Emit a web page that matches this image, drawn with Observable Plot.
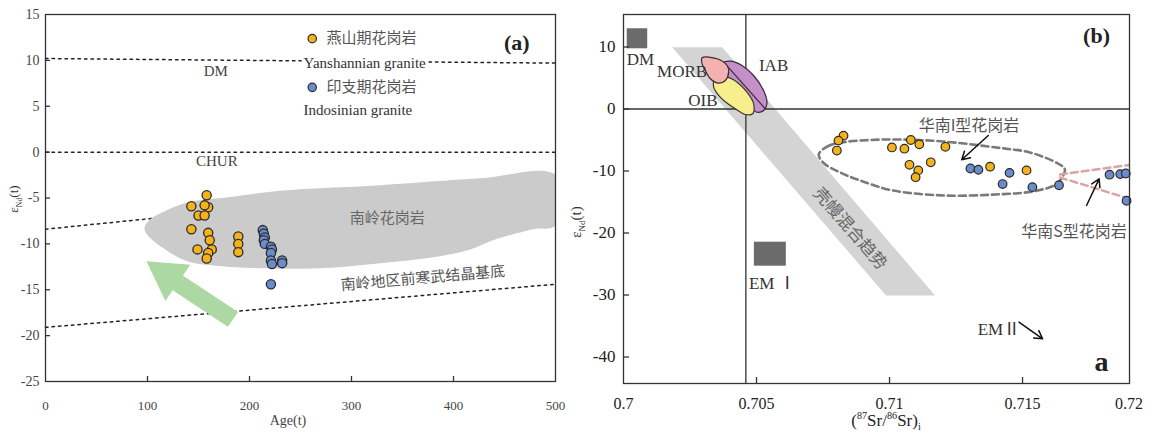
<!DOCTYPE html>
<html><head><meta charset="utf-8">
<script src="https://cdn.jsdelivr.net/npm/d3@7"></script>
<script src="https://cdn.jsdelivr.net/npm/@observablehq/plot@0.6"></script>
<style>
body{margin:0;background:#fff;}
#wrap{position:relative;width:1154px;height:434px;overflow:hidden;font-family:"Liberation Serif","Noto Sans CJK SC",serif;}
#pa{position:absolute;left:0;top:0}
#pb{position:absolute;left:565px;top:0}
.rot{position:absolute;transform:translate(-50%,-50%) rotate(-90deg);white-space:nowrap;color:#333}
.xt{position:absolute;transform:translate(-50%,-50%);white-space:nowrap;color:#222;line-height:1}
sub,sup{font-size:0.6em}
</style></head><body>
<div id="wrap">
 <div id="pa"></div><div id="pb"></div>
 <div class="rot" style="left:15px;top:199px;font-size:13px">ε<sub>Nd</sub>(t)</div>
 <div class="xt" style="left:288px;top:421px;font-size:14px;color:#444">Age(t)</div>
 <div class="rot" style="left:577px;top:222px;font-size:15px">ε<sub>Nd</sub>(t)</div>
 <div class="xt" style="left:886px;top:422px;font-size:17px">(<sup>87</sup>Sr/<sup>86</sup>Sr)<sub>i</sub></div>
</div>
<script>
const serif = "Liberation Serif, Noto Sans CJK SC, serif";
const cjk = "Noto Sans CJK SC, sans-serif";

// ---------- Panel (a) data ----------
const ageTicks = [0,100,200,300,400,500];
const endTicks = [15,10,5,0,-5,-10,-15,-20,-25];
const yanAge = [158,159.5,156,143,150,156,143,159.5,161,163,159.5,158,149,189,189,189];
const yanEnd = [-4.7,-6.0,-5.8,-5.9,-6.9,-6.9,-8.4,-8.8,-9.6,-10.6,-11.0,-11.6,-10.6,-9.2,-10.0,-10.9];
const indoAge = [213,214,215,214,215,221,222,221,221,222,232,232,221];
const indoEnd = [-8.5,-8.9,-9.3,-9.6,-10.0,-10.3,-10.6,-11.0,-11.8,-12.2,-11.8,-12.1,-14.4];
const nanlingX = [97,103,116,139,181,230,328,426,500,500,478,439,414,377,328,279,230,169,139,120,103];
const nanlingY = [-8.3,-7.3,-6.5,-5.5,-4.9,-4.2,-3.6,-2.85,-2.5,-8.0,-8.4,-9.6,-10.7,-11.5,-12.1,-12.6,-12.7,-12.4,-11.9,-10.8,-9.4];
const dmLineX = [0,500], dmLineY = [10.2,9.7];
const churLineX = [0,500], churLineY = [0,0];
const baseUpX = [0,120], baseUpY = [-8.4,-7.05];
const baseLowX = [0,500], baseLowY = [-19.1,-14.4];
const greenX = [99,141.9,134.7,188.8,178.8,124.7,117.5];
const greenY = [-11.9,-12.27,-13.44,-17.42,-19.03,-15.05,-16.22];
const legendX = [261.5,261.5], legendY = [12.37,7.06];
const legendNames = ["燕山期花岗岩","印支期花岗岩"];
const legendEn = ["Yanshannian granite","Indosinian granite"];
const legendEnY = [9.68,4.56];

// ---------- Panel (b) data ----------
const srTicks = [0.7,0.705,0.71,0.715,0.719];
const srTickLabels = ["0.7","0.705","0.71","0.715","0.72"];
const ndTicks = [10,0,-10,-20,-30,-40];
const ySr = [0.70827,0.70808,0.70802,0.71009,0.71056,0.71080,0.71112,0.71210,0.71075,0.71155,0.71108,0.71098,0.71378,0.71515];
const yNd = [-4.3,-5.1,-6.7,-6.2,-6.4,-5.0,-5.7,-6.1,-9.0,-8.6,-9.9,-11.0,-9.3,-9.9];
const iSr = [0.71304,0.71334,0.71451,0.71425,0.71537,0.71637,0.71827,0.71867,0.71888,0.71891];
const iNd = [-9.6,-9.8,-10.3,-12.1,-12.6,-12.3,-10.6,-10.5,-10.4,-14.8];
const bandX = [0.70183,0.70371,0.71171,0.70987];
const bandY = [9.97,9.97,-30.08,-30.08];
const morbX = [0.702954,0.703517,0.703893,0.703953,0.703829,0.703577,0.703266,0.703078,0.702954];
const morbY = [8.26,8.10,7.02,5.94,4.60,4.16,4.87,6.21,7.29];
const iabX = [0.703641,0.704017,0.704456,0.704891,0.705267,0.705394,0.705267,0.705019,0.704767,0.704516,0.704140,0.703829,0.703641];
const iabY = [7.29,7.71,7.02,5.40,2.98,0.84,-0.24,-0.52,0.29,1.90,3.79,5.40,6.48];
const iabLineX = [0.703765,0.705330], iabLineY = [7.55,0.03];
const oibX = [0.703416,0.703893,0.704268,0.704643,0.704891,0.704854,0.704580,0.704204,0.703765,0.703577,0.703390];
const oibY = [4.60,5.13,4.32,2.71,0.84,-0.77,-0.89,0.03,1.37,2.18,3.52];
const iTypeX = [0.707339,0.707695,0.708333,0.709272,0.710398,0.712012,0.714152,0.715278,0.716329,0.716592,0.716291,0.715465,0.713964,0.712087,0.710135,0.708896,0.708146,0.707545];
const iTypeY = [-7.34,-5.97,-5.32,-5.00,-4.92,-5.24,-6.29,-7.02,-8.79,-9.76,-12.02,-13.23,-13.79,-13.95,-13.15,-11.53,-10.24,-8.79];
const sUpX = [0.716404,0.718994], sUpY = [-10.56,-9.03];
const sLowX = [0.716404,0.718994], sLowY = [-11.05,-14.44];
const boxNames = ["DM","EM I"];
const boxX1 = [0.70014,0.70492], boxX2 = [0.70091,0.70612];
const boxY1 = [9.71,-25.35], boxY2 = [12.94,-21.48];
const arrowX1 = [0.713712,0.717406,0.714865], arrowY1 = [-4.27,-15.56,-34.39];
const arrowX2 = [0.712714,0.717879,0.715754], arrowY2 = [-8.19,-11.26,-37.06];
const labB = ["DM","MORB","IAB","OIB","EM Ⅰ","EMⅡ"];
const labBX = [0.700638,0.702203,0.705642,0.702984,0.705593,0.714114];
const labBY = [7.94,6.10,7.02,1.37,-28.19,-35.6];

const pts = (X, Y) => X.map((x, i) => ({x, y: Y[i]}));

// ---------- Panel (a) ----------
const A = Plot.plot({
  width: 565, height: 434,
  marginLeft: 45, marginRight: 10, marginTop: 14, marginBottom: 53,
  x: {domain: [0, 500]},
  y: {domain: [-25, 15]},
  style: {fontFamily: serif, background: "transparent", overflow: "visible"},
  marks: [
    Plot.line(pts(dmLineX, dmLineY), {x: "x", y: "y", stroke: "#222", strokeWidth: 1.5, strokeDasharray: "2.5,4"}),
    Plot.line(pts(churLineX, churLineY), {x: "x", y: "y", stroke: "#222", strokeWidth: 1.5, strokeDasharray: "2.5,4"}),
    Plot.line(pts(baseUpX, baseUpY), {x: "x", y: "y", stroke: "#222", strokeWidth: 1.5, strokeDasharray: "2.5,4"}),
    Plot.line(pts(baseLowX, baseLowY), {x: "x", y: "y", stroke: "#222", strokeWidth: 1.5, strokeDasharray: "2.5,4"}),
    Plot.line(pts(nanlingX, nanlingY), {x: "x", y: "y", fill: "#cbcbcb", stroke: "none", curve: "catmull-rom-closed", clip: true}),
    Plot.line(pts(greenX, greenY), {x: "x", y: "y", fill: "#acd9a3", stroke: "none", curve: "linear-closed"}),
    Plot.dot(pts(yanAge, yanEnd), {x: "x", y: "y", r: 4.6, fill: "#f4b21b", stroke: "#2a2a2a", strokeWidth: 1.3}),
    Plot.dot(pts(indoAge, indoEnd), {x: "x", y: "y", r: 4.6, fill: "#6a8ccb", stroke: "#2a2a2a", strokeWidth: 1.3}),
    // legend
    Plot.dot([0, 1], {x: i => legendX[i], y: i => legendY[i], r: 4.2, fill: i => ["#f4b21b", "#6a8ccb"][i], stroke: "#2a2a2a", strokeWidth: 1.2}),
    Plot.text([0, 1], {x: i => legendX[i] + 14, y: i => legendY[i], text: i => legendNames[i], textAnchor: "start", fontSize: 15, fontFamily: cjk, fill: "#555"}),
    Plot.text([0, 1], {x: () => 253, y: i => legendEnY[i], text: i => legendEn[i], textAnchor: "start", fontSize: 15, fill: "#333", stroke: "white", strokeWidth: 6}),
    Plot.text(["(a)"], {x: 462, y: 11.86, fontSize: 22, fontWeight: "bold", fill: "#222"}),
    Plot.text(["DM"], {x: 167, y: 8.8, fontSize: 15, fill: "#444"}),
    Plot.text(["CHUR"], {x: 168, y: -1.0, fontSize: 15, fill: "#444"}),
    Plot.text(["南岭花岗岩"], {x: 335, y: -7.25, fontSize: 15, fontFamily: cjk, fill: "#666"}),
    Plot.text(["南岭地区前寒武结晶基底"], {x: 370, y: -13.75, rotate: -5, fontSize: 15, fontFamily: cjk, fill: "#555"}),
    Plot.frame({stroke: "#333", strokeWidth: 1.3}),
    Plot.axisX(ageTicks, {tickSize: 0, tickPadding: 19, fontSize: 13, label: null, color: "#444"}),
    Plot.axisX(ageTicks.slice(1, -1), {tickSize: -5, tickFormat: () => "", label: null, color: "#333", strokeWidth: 1.3}),
    Plot.axisY(endTicks, {tickSize: 0, tickPadding: 6, fontSize: 14, label: null, color: "#444", tickFormat: d => String(d)}),
    Plot.axisY(endTicks.slice(1, -1), {tickSize: -5, tickFormat: () => "", label: null, color: "#333", strokeWidth: 1.3})
  ]
});
document.getElementById("pa").append(A);

// ---------- Panel (b) ----------
const B = Plot.plot({
  width: 589, height: 434,
  marginLeft: 58, marginRight: 25, marginTop: 14, marginBottom: 51,
  x: {domain: [0.7, 0.71902]},
  y: {domain: [-44.27, 15.24]},
  style: {fontFamily: serif, background: "transparent", overflow: "visible"},
  marks: [
    Plot.line(pts(bandX, bandY), {x: "x", y: "y", fill: "#d4d4d4", stroke: "none", curve: "linear-closed"}),
    Plot.text(["壳幔混合趋势"], {x: 0.70852, y: -19.3, rotate: 49, fontSize: 17, fontFamily: cjk, fill: "#666"}),
    Plot.ruleX([0.7046], {stroke: "#333", strokeWidth: 1.3}),
    Plot.ruleY([0], {stroke: "#333", strokeWidth: 1.3}),
    Plot.rect([0, 1], {x1: i => boxX1[i], x2: i => boxX2[i], y1: i => boxY1[i], y2: i => boxY2[i], fill: "#6b6b6b"}),
    Plot.line(pts(iabX, iabY), {x: "x", y: "y", fill: "#c58fc8", stroke: "#3a2a3a", strokeWidth: 1.2, curve: "catmull-rom-closed"}),
    Plot.line(pts(iabLineX, iabLineY), {x: "x", y: "y", stroke: "#3a2a3a", strokeWidth: 1.2}),
    Plot.line(pts(oibX, oibY), {x: "x", y: "y", fill: "#f7ef8e", stroke: "#3a3a2a", strokeWidth: 1.2, curve: "catmull-rom-closed"}),
    Plot.line(pts(morbX, morbY), {x: "x", y: "y", fill: "#f3b1b1", stroke: "#3a2a2a", strokeWidth: 1.2, curve: "catmull-rom-closed"}),
    Plot.line(pts(iTypeX, iTypeY), {x: "x", y: "y", stroke: "#7a7a7a", strokeWidth: 2.6, strokeDasharray: "7,4", curve: "catmull-rom-closed"}),
    Plot.line(pts(sUpX, sUpY), {x: "x", y: "y", stroke: "#d8a4a4", strokeWidth: 2.4, strokeDasharray: "7,4"}),
    Plot.line(pts(sLowX, sLowY), {x: "x", y: "y", stroke: "#d8a4a4", strokeWidth: 2.4, strokeDasharray: "7,4"}),
    Plot.dot(pts(ySr, yNd), {x: "x", y: "y", r: 4.3, fill: "#f4b21b", stroke: "#2a2a2a", strokeWidth: 1.2}),
    Plot.dot(pts(iSr, iNd), {x: "x", y: "y", r: 4.3, fill: "#6a8ccb", stroke: "#2a2a2a", strokeWidth: 1.2}),
    Plot.arrow([0, 1, 2], {x1: i => arrowX1[i], y1: i => arrowY1[i], x2: i => arrowX2[i], y2: i => arrowY2[i], stroke: "#111", strokeWidth: 1.5, headLength: 9}),
    Plot.text(labB, {x: (d, i) => labBX[i], y: (d, i) => labBY[i], fontSize: 17, fill: "#333"}),
    Plot.text(["华南I型花岗岩"], {x: 0.712988, y: -2.66, fontSize: 16, fontFamily: cjk, fill: "#555"}),
    Plot.text(["华南S型花岗岩"], {x: 0.71892, y: -19.87, textAnchor: "end", fontSize: 16, fontFamily: cjk, fill: "#555"}),
    Plot.text(["(b)"], {x: 0.717781, y: 11.85, fontSize: 22, fontWeight: "bold", fill: "#222"}),
    Plot.text(["a"], {x: 0.717969, y: -40.84, fontSize: 28, fontWeight: "bold", fill: "#222"}),
    Plot.frame({stroke: "#333", strokeWidth: 1.3}),
    Plot.axisX(srTicks, {tickSize: 0, tickPadding: 14, fontSize: 16, label: null, color: "#222", tickFormat: d => srTickLabels[srTicks.indexOf(d)]}),
    Plot.axisX(srTicks.slice(1, -1), {tickSize: -6, tickFormat: () => "", label: null, color: "#333", strokeWidth: 1.3}),
    Plot.axisY(ndTicks, {tickSize: 0, tickPadding: 8, fontSize: 17, label: null, color: "#222", tickFormat: d => String(d)}),
    Plot.axisY(ndTicks, {tickSize: -6, tickFormat: () => "", label: null, color: "#333", strokeWidth: 1.3})
  ]
});
document.getElementById("pb").append(B);
</script>
</body></html>
